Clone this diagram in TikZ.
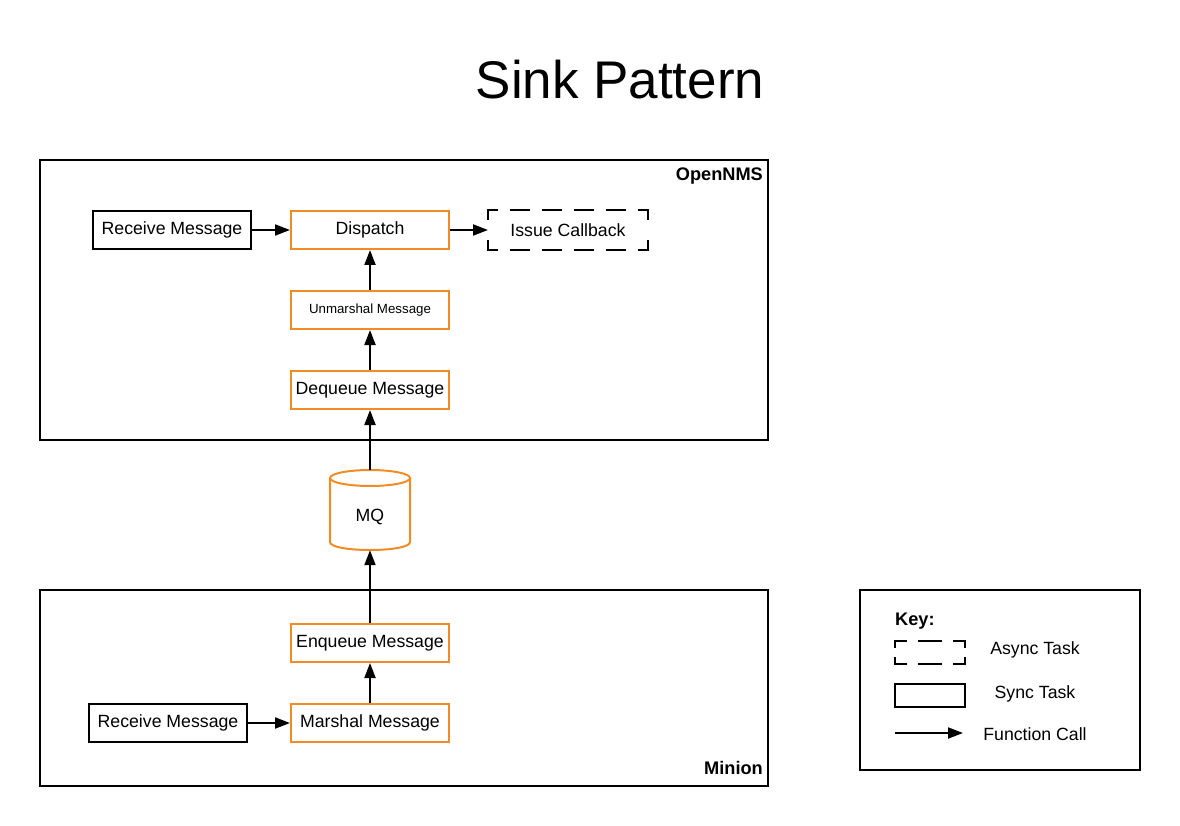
\documentclass[tikz,border=0pt]{standalone}
\usepackage{fontspec}
\setmainfont{Liberation Sans}
\usepackage{xcolor}
\usepackage{tikz}
\usetikzlibrary{arrows.meta,positioning}

\definecolor{lucidOrange}{RGB}{240,140,35}

\begin{document}
\begin{tikzpicture}[x=1pt,y=-1pt]

\tikzset{syncTask/.style={draw=black, line width=2pt, minimum width=158pt, minimum height=38pt, inner sep=0pt,
  font=\fontsize{17.7}{21}\selectfont},
asyncTask/.style={syncTask, draw=none, outer sep=0pt},
queueTask/.style={syncTask, draw=lucidOrange},
frameBox/.style={draw=black, line width=2pt, inner sep=0pt},
frameLabel/.style={inner sep=0pt, font=\fontsize{18.2}{22}\selectfont\bfseries},
keyText/.style={font=\fontsize{17.7}{21}\selectfont},
%dashed edges of the async boxes
asyncEdge/.style={line width=2pt, line cap=rect},
%function call arrows
callArrow/.style={line width=2pt, -{Triangle[length=15pt,width=11pt]}}}

\useasboundingbox (0,0) rectangle (1180,826);

\node (title) at (620,99) [anchor=base, font=\fontsize{53}{60}\selectfont] {Sink Pattern};

%the two systems
\node (opennms) [frameBox, minimum width=728pt, minimum height=280pt] at (404,300) {};
\node (minion) [frameBox, minimum width=728pt, minimum height=196pt] at (404,688) {};
\node (opennmsLabel) at (763,181) [anchor=base east, frameLabel] {OpenNMS};
\node (minionLabel) at (763,774) [anchor=base east, frameLabel] {Minion};

\node (recvTop) [syncTask] at (172,230) {Receive Message};
\node (dispatch) [queueTask] at (370,230) {Dispatch};
\node (callback) [asyncTask, minimum width=160pt, minimum height=40pt] at (568,230) {Issue Callback};
\node (unmarshal) [queueTask, font=\fontsize{13.3}{16}\selectfont] at (370,310) {Unmarshal Message};
\node (dequeue) [queueTask] at (370,390) {Dequeue Message};

%the queue
\node (mq) [minimum width=80pt, minimum height=80pt, inner sep=0pt,
  label={[font=\fontsize{17.7}{21}\selectfont, yshift=-7pt]center:MQ}] at (370,510) {};
\draw[lucidOrange, line width=2pt] (370,478) ellipse [x radius=40pt, y radius=8pt];
\draw[lucidOrange, line width=2pt] (330,478) -- (330,542) .. controls (330,552.67) and (410,552.67) .. (410,542) -- (410,478);

\node (enqueue) [queueTask] at (370,643) {Enqueue Message};
\node (marshal) [queueTask] at (370,723) {Marshal Message};
\node (recvBottom) [syncTask] at (168,723) {Receive Message};

\draw[callArrow] (recvTop) -- (dispatch);
\draw[callArrow] (dispatch) -- (callback);
\draw[callArrow] (unmarshal) -- (dispatch);
\draw[callArrow] (dequeue) -- (unmarshal);
\draw[callArrow] (mq) -- (dequeue);
\draw[callArrow] (enqueue) -- (mq);
\draw[callArrow] (marshal) -- (enqueue);
\draw[callArrow] (recvBottom) -- (marshal);

%now the key
\node (key) [frameBox, minimum width=280pt, minimum height=180pt] at (1000,680) {};
\node (keyLabel) at (895,625) [anchor=base west, frameLabel] {Key:};
\node (keyAsync) [asyncTask, minimum width=70pt, minimum height=23pt] at (930,652) {};
\node (keySync) [syncTask, minimum width=70pt, minimum height=23pt] at (930,695) {};
\coordinate (keyFrom) at (895,733);
\coordinate (keyTo) at (963,733);
\draw[callArrow] (keyFrom) -- (keyTo);

\node (asyncText) at (1035,650) [keyText] {Async Task};
\node (syncText) at (1035,694) [keyText] {Sync Task};
\node (callText) at (1035,734) [keyText] {Function Call};

%dashes drawn edge by edge so that every corner gets one
\foreach \n/\on/\off/\ph/\son/\soff in {callback/18pt/14pt/9pt/9pt/22pt, keyAsync/22pt/13pt/11pt/6pt/11pt} {
  \draw[asyncEdge, dash pattern=on \on off \off, dash phase=\ph] (\n.north west) -- (\n.north east);
  \draw[asyncEdge, dash pattern=on \on off \off, dash phase=\ph] (\n.south west) -- (\n.south east);
  \draw[asyncEdge, dash pattern=on \son off \soff on \son off 100pt] (\n.north west) -- (\n.south west);
  \draw[asyncEdge, dash pattern=on \son off \soff on \son off 100pt] (\n.north east) -- (\n.south east);
}

\end{tikzpicture}
\end{document}
